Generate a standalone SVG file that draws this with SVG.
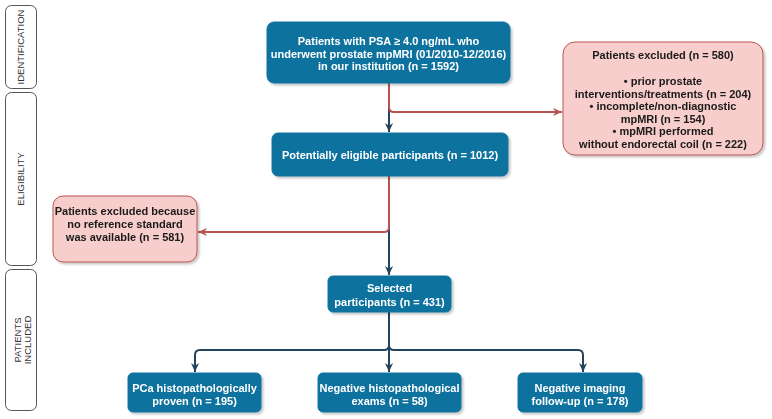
<svg xmlns="http://www.w3.org/2000/svg" width="772" height="419" viewBox="0 0 772 419">
<defs>
<style>
.side{fill:#ffffff;stroke:#555;stroke-width:1}
.sidet{font-family:"Liberation Sans",Arial,sans-serif;font-size:9.5px;fill:#333;text-anchor:middle}
.blue{fill:#10739e;stroke:#10739e;stroke-width:1}
.red{fill:#f8cecc;stroke:#b85450;stroke-width:1}
.wt{font-family:"Liberation Sans",Arial,sans-serif;font-size:11px;font-weight:bold;fill:#ffffff;text-anchor:middle}
.bt{font-family:"Liberation Sans",Arial,sans-serif;font-size:11px;font-weight:bold;fill:#1a1a1a;text-anchor:middle}
.cd{fill:none;stroke:#23445d;stroke-width:2}
.cr{fill:none;stroke:#b85450;stroke-width:2}
</style>
<filter id="sh" x="-10%" y="-10%" width="130%" height="140%">
<feDropShadow dx="2" dy="2" stdDeviation="1" flood-color="#000" flood-opacity="0.22"/>
</filter>
<marker id="ad" markerUnits="userSpaceOnUse" markerWidth="9" markerHeight="9" viewBox="0 0 10 10" refX="10" refY="5" orient="auto">
<path d="M0,0.5 L10,5 L0,9.5 L3,5 z" fill="#23445d"/>
</marker>
<marker id="ar" markerUnits="userSpaceOnUse" markerWidth="9" markerHeight="9" viewBox="0 0 10 10" refX="10" refY="5" orient="auto">
<path d="M0,0.5 L10,5 L0,9.5 L3,5 z" fill="#b85450"/>
</marker>
</defs>
<rect width="772" height="419" fill="#ffffff"/>

<g id="lane-identification">
<rect class="side" x="5.5" y="5.5" width="31" height="83" rx="6"/>
<text class="sidet" transform="translate(24,47) rotate(-90)">IDENTIFICATION</text>
</g>
<g id="lane-eligibility">
<rect class="side" x="5.5" y="92.5" width="31" height="173" rx="6"/>
<text class="sidet" transform="translate(24,179) rotate(-90)">ELIGIBILITY</text>
</g>
<g id="lane-included">
<rect class="side" x="5.5" y="269.5" width="31" height="141" rx="6"/>
<text class="sidet" transform="translate(21,340) rotate(-90)">PATIENTS</text>
<text class="sidet" transform="translate(31,340) rotate(-90)">INCLUDED</text>
</g>

<g id="connectors">
<path class="cd" d="M389,83 V132" marker-end="url(#ad)"/>
<path class="cr" d="M389,83 V107 Q389,112 394,112 H562" marker-end="url(#ar)"/>
<path class="cd" d="M389,176 V275" marker-end="url(#ad)"/>
<path class="cr" d="M389,176 V227 Q389,232 384,232 H198" marker-end="url(#ar)"/>
<path class="cd" d="M389,312 V372" marker-end="url(#ad)"/>
<path class="cd" d="M389,345 Q389,350 384,350 H200 Q195,350 195,355 V372" marker-end="url(#ad)"/>
<path class="cd" d="M389,345 Q389,350 394,350 H578 Q583,350 583,355 V372" marker-end="url(#ad)"/>
</g>

<g id="node-start" filter="url(#sh)">
<rect class="blue" x="267" y="22" width="243" height="61" rx="7"/>
<text class="wt" x="388.5" y="45">Patients with PSA ≥ 4.0 ng/mL who</text>
<text class="wt" x="388.5" y="57.5">underwent prostate mpMRI (01/2010-12/2016)</text>
<text class="wt" x="388.5" y="70">in our institution (n = 1592)</text>
</g>

<g id="node-excluded1" filter="url(#sh)">
<rect class="red" x="563" y="42" width="200" height="113" rx="12"/>
<text class="bt" x="663" y="59">Patients excluded (n = 580)</text>
<text class="bt" x="663" y="85">• prior prostate</text>
<text class="bt" x="663" y="97.5">interventions/treatments (n = 204)</text>
<text class="bt" x="663" y="110">• incomplete/non-diagnostic</text>
<text class="bt" x="663" y="122.5">mpMRI (n = 154)</text>
<text class="bt" x="663" y="135">• mpMRI performed</text>
<text class="bt" x="663" y="148">without endorectal coil (n = 222)</text>
</g>

<g id="node-eligible" filter="url(#sh)">
<rect class="blue" x="272" y="133" width="236" height="43" rx="6"/>
<text class="wt" x="390" y="158.5">Potentially eligible participants (n = 1012)</text>
</g>

<g id="node-excluded2" filter="url(#sh)">
<rect class="red" x="53" y="196" width="144" height="66" rx="10"/>
<text class="bt" x="125" y="215">Patients excluded because</text>
<text class="bt" x="125" y="228">no reference standard</text>
<text class="bt" x="125" y="241">was available (n = 581)</text>
</g>

<g id="node-selected" filter="url(#sh)">
<rect class="blue" x="328" y="276" width="123" height="36" rx="5"/>
<text class="wt" x="389.5" y="292">Selected</text>
<text class="wt" x="389.5" y="305.5">participants (n = 431)</text>
</g>

<g id="node-pca" filter="url(#sh)">
<rect class="blue" x="128" y="373" width="133" height="39" rx="5"/>
<text class="wt" x="194.5" y="391.5">PCa histopathologically</text>
<text class="wt" x="194.5" y="405">proven (n = 195)</text>
</g>

<g id="node-neghisto" filter="url(#sh)">
<rect class="blue" x="318" y="373" width="143" height="39" rx="5"/>
<text class="wt" x="389.5" y="391.5">Negative histopathological</text>
<text class="wt" x="389.5" y="405">exams (n = 58)</text>
</g>

<g id="node-negimaging" filter="url(#sh)">
<rect class="blue" x="518" y="373" width="124" height="39" rx="5"/>
<text class="wt" x="580" y="391.5">Negative imaging</text>
<text class="wt" x="580" y="405">follow-up  (n = 178)</text>
</g>
</svg>
